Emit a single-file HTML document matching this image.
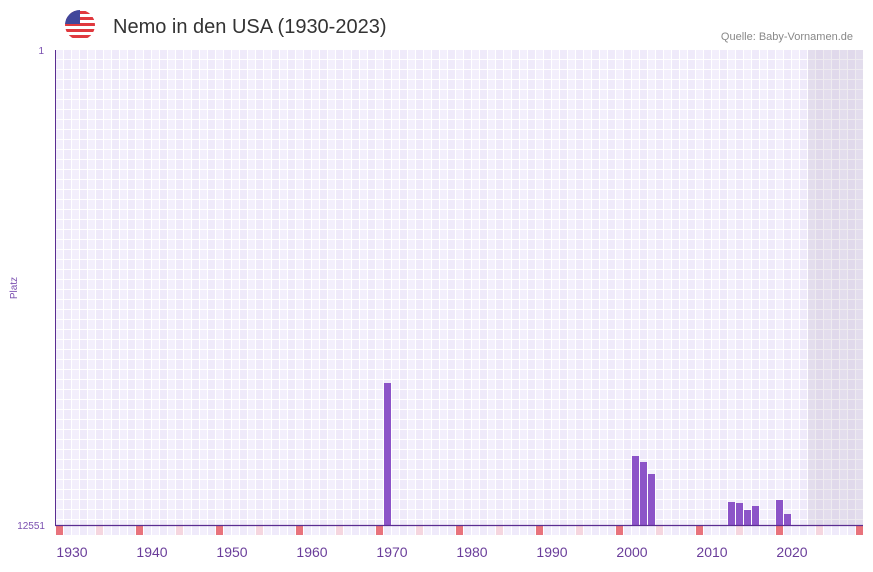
<!DOCTYPE html>
<html><head><meta charset="utf-8"><style>
body{margin:0;background:#fff;width:873px;height:567px;overflow:hidden;font-family:"Liberation Sans",sans-serif}
</style></head><body>
<svg id="s" width="873" height="567" xmlns="http://www.w3.org/2000/svg">
<defs><clipPath id="c"><circle cx="80" cy="25" r="15"/></clipPath></defs>
<g clip-path="url(#c)">
<rect x="65" y="10" width="30" height="30" fill="#fff"/>
<rect x="65" y="11" width="30" height="3" fill="#e0393e"/>
<rect x="65" y="17" width="30" height="3" fill="#e0393e"/>
<rect x="65" y="23" width="30" height="3" fill="#e0393e"/>
<rect x="65" y="29" width="30" height="3" fill="#e0393e"/>
<rect x="65" y="35" width="30" height="3" fill="#e0393e"/>
<rect x="65" y="10" width="15" height="14" fill="#41479b"/>
</g>
<text x="113" y="33" font-size="20" fill="#333">Nemo in den USA (1930-2023)</text>
<text x="853" y="40" font-size="11" fill="#888" text-anchor="end">Quelle: Baby-Vornamen.de</text>
<text x="44" y="54" font-size="10" fill="#7a4fb0" text-anchor="end">1</text>
<text x="45" y="529" font-size="10" fill="#7a4fb0" text-anchor="end">12551</text>
<text x="17" y="288" font-size="10" fill="#7a4fb0" text-anchor="middle" transform="rotate(-90 17 288)">Platz</text>
<g id="g"></g>
<line x1="55.5" y1="50" x2="55.5" y2="526" stroke="#5a2d91" stroke-width="1"/>
<line x1="55" y1="525.5" x2="863" y2="525.5" stroke="#5a2d91" stroke-width="1.2"/>
</svg>
<script>
var g=document.getElementById('g'),h='';
for(var i=0;i<101;i++){var x=56+i*8;if(x>=863)break;
 var f=i%2?'#efeafa':'#f3effc';
 for(var y=50;y<525;y+=10){h+='<rect x="'+x+'" y="'+y+'" width="7" height="9" fill="'+f+'"/>';}
 var bc=f; if(i%10==0)bc='#e8737c'; else if(i%10==5)bc='#f5d6df';
 h+='<rect x="'+x+'" y="526" width="7" height="9" fill="'+bc+'"/>';
}
h+='<rect x="808" y="50" width="55" height="475" fill="#8a7a9a" opacity="0.15"/>';
var bars=[[384,383],[632,456],[640,462],[648,474],[728,502],[736,503],[744,510],[752,506],[776,500],[784,514]];
bars.forEach(function(b){h+='<rect x="'+b[0]+'" y="'+b[1]+'" width="7" height="'+(525-b[1])+'" fill="#8c54c8"/>';});
for(var d=0;d<10;d++){h+='<text x="'+(72+d*80)+'" y="557" font-size="14" fill="#6a3d9a" text-anchor="middle">'+(1930+d*10)+'</text>';}
g.innerHTML=h;
</script>
</body></html>
